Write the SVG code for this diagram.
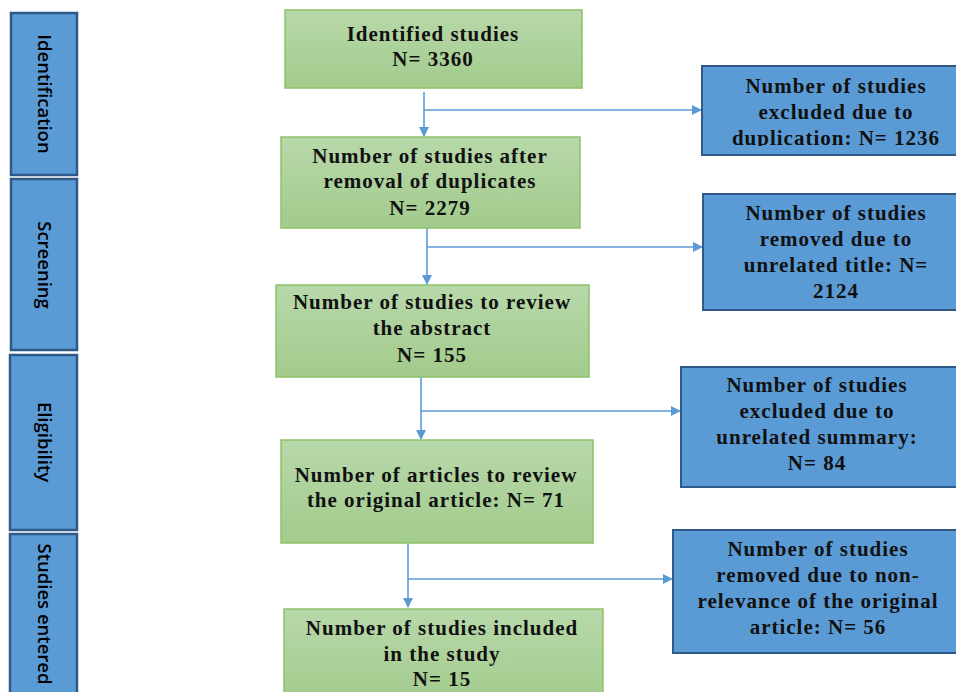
<svg xmlns="http://www.w3.org/2000/svg" width="956" height="692" viewBox="0 0 956 692">
<style>
.side{fill:#5B9BD5;stroke:#2E5A88;stroke-width:2.5}
.sideT{font-family:"Open Sans","Liberation Sans",Arial,sans-serif;font-weight:600;font-size:18.5px;fill:#000;text-anchor:middle;dominant-baseline:central}
.green{fill:url(#gg);stroke:#8CC26A;stroke-width:1.5}
.blue{fill:#5B9BD5;stroke:#2E5A88;stroke-width:2}
.t{font-family:"Liberation Serif","Times New Roman",serif;font-weight:bold;font-size:21px;letter-spacing:1px;fill:#111;text-anchor:middle}
.c{fill:none;stroke:#5B9BD5;stroke-width:1.6}
</style>
<defs>
<linearGradient id="gg" x1="0" y1="0" x2="0" y2="1">
<stop offset="0" stop-color="#B8D8AA"/>
<stop offset="1" stop-color="#A2CB8C"/>
</linearGradient>
<marker id="ah" markerWidth="10" markerHeight="10" refX="9" refY="5" orient="auto" markerUnits="userSpaceOnUse">
<path d="M0,0 L10,5 L0,10 Z" fill="#5B9BD5"/>
</marker>
<clipPath id="cb1"><rect x="702" y="66" width="254" height="80"/></clipPath>
</defs>

<g id="phase-identification">
<rect class="side" x="11" y="13" width="66" height="162"/>
<text class="sideT" transform="translate(45,94) rotate(90)">Identification</text>
</g>
<g id="phase-screening">
<rect class="side" x="11" y="179" width="66" height="171"/>
<text class="sideT" transform="translate(45,265) rotate(90)">Screening</text>
</g>
<g id="phase-eligibility">
<rect class="side" x="10" y="355" width="67" height="175"/>
<text class="sideT" transform="translate(45,442) rotate(90)">Eligibility</text>
</g>
<g id="phase-included">
<rect class="side" x="10" y="534" width="67" height="170"/>
<text class="sideT" transform="translate(45,614) rotate(90)">Studies entered</text>
</g>

<g id="connectors">
<path class="c" d="M424,92 V136" marker-end="url(#ah)"/>
<path class="c" d="M424,110 H701" marker-end="url(#ah)"/>
<path class="c" d="M427,228 V284" marker-end="url(#ah)"/>
<path class="c" d="M427,247 H702" marker-end="url(#ah)"/>
<path class="c" d="M421,377 V439" marker-end="url(#ah)"/>
<path class="c" d="M421,411 H680" marker-end="url(#ah)"/>
<path class="c" d="M408,543 V607" marker-end="url(#ah)"/>
<path class="c" d="M408,579 H672" marker-end="url(#ah)"/>
</g>

<g id="identified">
<rect class="green" x="285" y="10" width="297" height="78"/>
<text class="t" x="433" y="41">Identified studies</text>
<text class="t" x="433" y="66">N= 3360</text>
</g>
<g id="after-duplicates">
<rect class="green" x="281" y="137" width="299" height="91"/>
<text class="t" x="430" y="163">Number of studies after</text>
<text class="t" x="430" y="188">removal of duplicates</text>
<text class="t" x="430" y="215">N= 2279</text>
</g>
<g id="review-abstract">
<rect class="green" x="276" y="285" width="313" height="92"/>
<text class="t" x="432" y="309">Number of studies to review</text>
<text class="t" x="432" y="335">the abstract</text>
<text class="t" x="432" y="362">N= 155</text>
</g>
<g id="review-article">
<rect class="green" x="281" y="440" width="312" height="103"/>
<text class="t" x="436" y="482">Number of articles to review</text>
<text class="t" x="436" y="507">the original article: N= 71</text>
</g>
<g id="included">
<rect class="green" x="284" y="609" width="319" height="95"/>
<text class="t" x="442" y="635">Number of studies included</text>
<text class="t" x="442" y="661">in the study</text>
<text class="t" x="442" y="686">N= 15</text>
</g>

<g id="excluded-duplication">
<rect class="blue" x="702" y="66" width="264" height="89"/>
<g clip-path="url(#cb1)">
<text class="t" x="836" y="93">Number of studies</text>
<text class="t" x="836" y="119">excluded due to</text>
<text class="t" x="836" y="145">duplication: N= 1236</text>
</g>
</g>
<g id="removed-title">
<rect class="blue" x="703" y="194" width="263" height="116"/>
<text class="t" x="836" y="220">Number of studies</text>
<text class="t" x="836" y="246">removed due to</text>
<text class="t" x="836" y="272">unrelated title: N=</text>
<text class="t" x="836" y="298">2124</text>
</g>
<g id="excluded-summary">
<rect class="blue" x="681" y="367" width="285" height="120"/>
<text class="t" x="817" y="392">Number of studies</text>
<text class="t" x="817" y="418">excluded due to</text>
<text class="t" x="817" y="444">unrelated summary:</text>
<text class="t" x="817" y="470">N= 84</text>
</g>
<g id="removed-nonrelevance">
<rect class="blue" x="673" y="530" width="293" height="123"/>
<text class="t" x="818" y="556">Number of studies</text>
<text class="t" x="818" y="582">removed due to non-</text>
<text class="t" x="818" y="608">relevance of the original</text>
<text class="t" x="818" y="634">article: N= 56</text>
</g>
</svg>
